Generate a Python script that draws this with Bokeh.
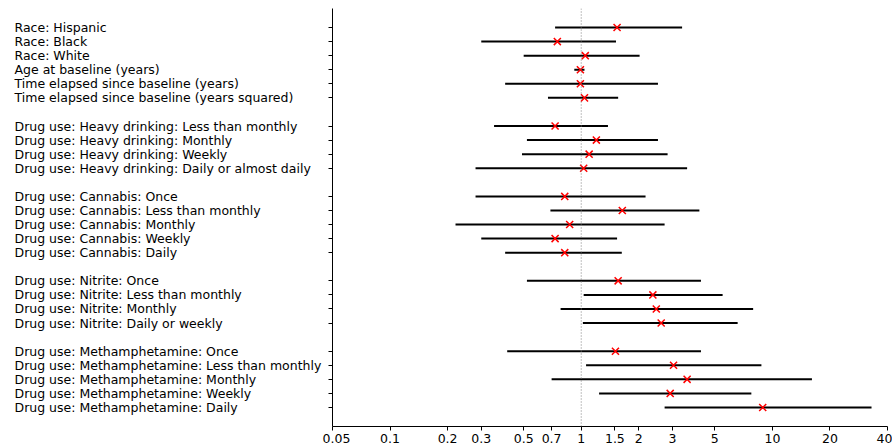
from bokeh.plotting import figure
from bokeh.layouts import row
from bokeh.models import (ColumnDataSource, Range1d, FixedTicker, Span,
                          CustomJSTickFormatter)
from bokeh.core.properties import value
from bokeh.embed import file_html
from bokeh.resources import INLINE

# ---------------- data ----------------
labels = [
    "Race: Hispanic",
    "Race: Black",
    "Race: White",
    "Age at baseline (years)",
    "Time elapsed since baseline (years)",
    "Time elapsed since baseline (years squared)",
    "Drug use: Heavy drinking: Less than monthly",
    "Drug use: Heavy drinking: Monthly",
    "Drug use: Heavy drinking: Weekly",
    "Drug use: Heavy drinking: Daily or almost daily",
    "Drug use: Cannabis: Once",
    "Drug use: Cannabis: Less than monthly",
    "Drug use: Cannabis: Monthly",
    "Drug use: Cannabis: Weekly",
    "Drug use: Cannabis: Daily",
    "Drug use: Nitrite: Once",
    "Drug use: Nitrite: Less than monthly",
    "Drug use: Nitrite: Monthly",
    "Drug use: Nitrite: Daily or weekly",
    "Drug use: Methamphetamine: Once",
    "Drug use: Methamphetamine: Less than monthly",
    "Drug use: Methamphetamine: Monthly",
    "Drug use: Methamphetamine: Weekly",
    "Drug use: Methamphetamine: Daily",
]
group_sizes = [6, 4, 5, 4, 5]

estimate = [1.54, 0.75, 1.05, 0.99, 0.99, 1.04,
            0.73, 1.20, 1.10, 1.03,
            0.82, 1.64, 0.87, 0.73, 0.82,
            1.56, 2.37, 2.47, 2.62,
            1.51, 3.04, 3.58, 2.92, 8.90]
lower = [0.73, 0.30, 0.50, 0.92, 0.40, 0.67,
         0.35, 0.52, 0.49, 0.28,
         0.28, 0.69, 0.22, 0.30, 0.40,
         0.52, 1.03, 0.78, 1.02,
         0.41, 1.06, 0.70, 1.24, 2.73]
upper = [3.37, 1.52, 2.02, 1.04, 2.52, 1.56,
         1.38, 2.52, 2.83, 3.58,
         2.17, 4.15, 2.73, 1.54, 1.63,
         4.23, 5.49, 7.93, 6.58,
         4.23, 8.76, 16.1, 7.76, 33.0]

x_ticks = [0.05, 0.1, 0.2, 0.3, 0.5, 0.7, 1, 1.5, 2, 3, 5, 10, 20, 40]
x_tick_labels = ["0.05", "0.1", "0.2", "0.3", "0.5", "0.7", "1", "1.5",
                 "2", "3", "5", "10", "20", "40"]
x_min, x_max = 0.05, 40
reference_value = 1

# row positions: one blank row between groups
ypos = []
k = 0
for n in group_sizes:
    for _ in range(n):
        ypos.append(k)
        k += 1
    k += 1
last = ypos[-1]

src = ColumnDataSource(dict(y=ypos, est=estimate, lo=lower, hi=upper, label=labels))

FONT = "DejaVu Sans"
FS = "12.5px"
y_range = Range1d(start=last + 1.35, end=-1.35)

# ---------------- left label panel ----------------
left = figure(width=322, height=448, x_range=Range1d(0, 1), y_range=y_range,
              output_backend="svg", toolbar_location=None,
              min_border_left=0, min_border_right=0, min_border_top=8,
              min_border_bottom=22)
left.axis.visible = False
left.grid.visible = False
left.outline_line_color = None
left.text(x=0, y="y", text="label", source=src, x_offset=14,
          text_font=value(FONT), text_font_size=FS, text_color="black",
          text_align="left", text_baseline="middle")

# ---------------- main plot ----------------
p = figure(width=570, height=448, x_axis_type="log",
           x_range=Range1d(x_min, x_max), y_range=y_range,
           output_backend="svg", toolbar_location=None,
           min_border_left=10, min_border_right=5, min_border_top=8,
           min_border_bottom=22)
p.grid.visible = False
p.outline_line_color = None

p.add_layout(Span(location=reference_value, dimension="height",
                  line_color="grey", line_dash="1 2", line_width=1))
p.segment(x0="lo", x1="hi", y0="y", y1="y", source=src,
          line_color="black", line_width=2)
p.scatter(x="est", y="y", source=src, marker="x", size=10,
          line_color="red", line_width=1.5)

xa = p.xaxis[0]
xa.ticker = FixedTicker(ticks=x_ticks, minor_ticks=[])
xa.formatter = CustomJSTickFormatter(
    args=dict(tv=x_ticks, tl=x_tick_labels),
    code="""
const i = tv.findIndex(t => Math.abs(t - tick) < 1e-9 * Math.max(1, Math.abs(t)));
return i >= 0 ? tl[i] : '';
""")
xa.major_label_text_font = FONT
xa.major_label_text_font_size = FS
xa.major_label_text_color = "black"
xa.major_label_standoff = 3
xa.major_tick_out = 4
xa.major_tick_in = 0
xa.minor_tick_line_color = None
xa.axis_line_color = "black"
xa.major_tick_line_color = "black"

ya = p.yaxis[0]
ya.ticker = FixedTicker(ticks=ypos, minor_ticks=[])
ya.formatter = CustomJSTickFormatter(code="return '';")
ya.major_label_standoff = 0
ya.major_tick_out = 4
ya.major_tick_in = 0
ya.minor_tick_line_color = None
ya.axis_line_color = "black"
ya.major_tick_line_color = "black"

layout = row(left, p, spacing=0)
open("out.html", "w").write(file_html(layout, INLINE))
